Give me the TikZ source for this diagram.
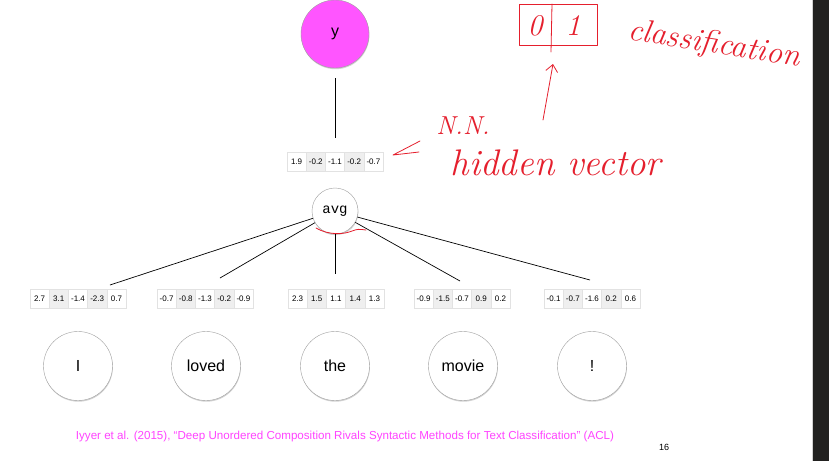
\documentclass[tikz,border=0pt]{standalone}
\usepackage{fontspec}
\setsansfont{Liberation Sans}
\newfontfamily\avgfont{Liberation Mono}
\usetikzlibrary{arrows.meta,calc,positioning,shadows}
\definecolor{ypink}{HTML}{FF55FF}
\definecolor{cellgrey}{HTML}{EFEFEF}
\definecolor{cellline}{HTML}{E2E2E2}
\definecolor{inkred}{HTML}{E51F2D}
\definecolor{citepink}{HTML}{FF44FF}
\definecolor{sidebar}{HTML}{222120}

\tikzset{
  cell/.style={draw=cellline,line width=0.4pt,minimum width=19.2pt,minimum height=19pt,
    inner sep=0pt,font=\sffamily\fontsize{8}{9}\selectfont},
  wordnode/.style={circle,draw=gray!75,fill=white,minimum size=69pt,inner sep=0pt,
    drop shadow={shadow xshift=0.4pt,shadow yshift=-1.2pt,opacity=0.35},
    font=\sffamily\fontsize{16}{18}\selectfont},
  ink/.style={inkred,line width=0.8pt,line cap=round,line join=round},
  handtext/.style={inkred,font=\itshape\fontsize{#1}{#1}\selectfont,inner sep=0pt},
}

% name, x of first cell, y, values
\newcommand{\cellrow}[4]{%
  \foreach \v [count=\i] in {#4} {
    \ifodd\i \def\cf{white}\else\def\cf{cellgrey}\fi
    \node[cell,fill=\cf] (#1-\i) at ({#2+(\i-1)*19.2},#3) {\v};
  }%
}

\begin{document}
\begin{tikzpicture}[x=1pt,y=-1pt]
    \fill[white] (0,0) rectangle (829,461);
    \useasboundingbox (0,0) rectangle (829,461);
    \fill[sidebar] (813,0) rectangle (829,461);
    \draw[gray!35,line width=0.8pt] (812.6,0) -- (812.6,461);

    % output and hidden layer
    \node[wordnode,fill=ypink,minimum size=68pt] (y) at (335,34) {y};
    \cellrow{h}{296.6}{162}{1.9,-0.2,-1.1,-0.2,-0.7}
    \draw[line width=0.7pt,shorten <=10pt,shorten >=14.5pt] (y.south) -- (h-3.north);
    \node[wordnode,minimum size=46pt,font=\avgfont\fontsize{14}{16}\selectfont] (avg) at (335,211) {avg};

    % word vectors
    \cellrow{v1}{39.6}{299}{2.7,3.1,-1.4,-2.3,0.7}
    \cellrow{v2}{166.6}{299}{-0.7,-0.8,-1.3,-0.2,-0.9}
    \cellrow{v3}{297.6}{299}{2.3,1.5,1.1,1.4,1.3}
    \cellrow{v4}{423.6}{299}{-0.9,-1.5,-0.7,0.9,0.2}
    \cellrow{v5}{553.6}{299}{-0.1,-0.7,-1.6,0.2,0.6}

    \coordinate (e1) at (110,285);
    \coordinate (e2) at (220,278);
    \coordinate (e3) at (335,274);
    \coordinate (e4) at (460,281);
    \coordinate (e5) at (590,280);
    \foreach \k in {1,...,5} {
      \draw[line width=0.7pt] (avg) -- (e\k);
    }

    % words
    \node[wordnode] (w1) at (78,366) {I};
    \node[wordnode] (w2) at (206,366) {loved};
    \node[wordnode] (w3) at (335,366) {the};
    \node[wordnode] (w4) at (463,366) {movie};
    \node[wordnode] (w5) at (592,366) {!};

    \node[citepink,font=\sffamily\fontsize{11.6}{13}\selectfont] (cite) at (345,436)
      {Iyyer et al. (2015), ``Deep Unordered Composition Rivals Syntactic Methods for Text Classification'' (ACL)};
    \node[font=\sffamily\fontsize{9}{10}\selectfont] (page) at (664,447) {16};

    % pen notes
    \draw[ink] (316,228) .. controls (330,236) and (345,234) .. (352,231) .. controls (358,229) .. (366,230);
    \draw[ink] (519,4) rectangle (597,45);
    \draw[ink] (552,4) -- (551,52);
    \node[handtext=30] (zero) at (535,26) {0};
    \node[handtext=30] (one) at (573,26) {1};
    \node[handtext=32,rotate=-9] (cls) at (714,45) {classification};
    \coordinate (uptail) at (543,120);
    \coordinate (uphead) at (553,64);
    \draw[ink,-{Straight Barb[length=7pt,width=12pt]}] (uptail) -- (uphead);
    \node[handtext=26] (nn) at (463,126) {N.N.};
    \node[handtext=37] (hid) at (556,163) {hidden vector};
    \draw[ink] (420,141) -- (393,155) -- (419,152);
\end{tikzpicture}
\end{document}
